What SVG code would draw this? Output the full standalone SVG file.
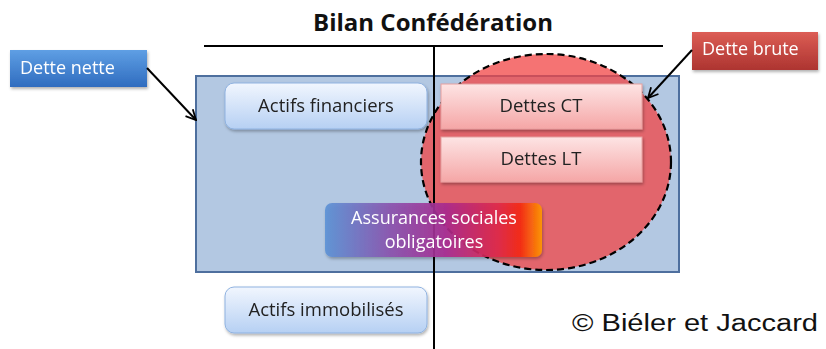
<svg xmlns="http://www.w3.org/2000/svg" width="826" height="349" viewBox="0 0 826 349">
  <defs>
    <linearGradient id="gAsset" x1="0" y1="0" x2="0" y2="1">
      <stop offset="0" stop-color="#f1f6fe"/>
      <stop offset="1" stop-color="#b6d0f3"/>
    </linearGradient>
    <linearGradient id="gDebt" x1="0" y1="0" x2="0" y2="1">
      <stop offset="0" stop-color="#fde4e4"/>
      <stop offset="1" stop-color="#f5a6a6"/>
    </linearGradient>
    <linearGradient id="gSocial" x1="0" y1="0" x2="1" y2="0">
      <stop offset="0" stop-color="#5b93d6"/>
      <stop offset="0.3" stop-color="#8a52ae"/>
      <stop offset="0.55" stop-color="#a82a90"/>
      <stop offset="0.8" stop-color="#e02848"/>
      <stop offset="0.9" stop-color="#f62a12"/>
      <stop offset="1" stop-color="#ff9a00"/>
    </linearGradient>
    <linearGradient id="gNet" x1="0" y1="0" x2="0" y2="1">
      <stop offset="0" stop-color="#5f9fe4"/>
      <stop offset="1" stop-color="#2f6cbf"/>
    </linearGradient>
    <linearGradient id="gGross" x1="0" y1="0" x2="0" y2="1">
      <stop offset="0" stop-color="#dc5d55"/>
      <stop offset="1" stop-color="#ad3430"/>
    </linearGradient>
    <filter id="shadow" x="-10%" y="-20%" width="120%" height="150%">
      <feDropShadow dx="1" dy="2" stdDeviation="1.5" flood-color="#000" flood-opacity="0.3"/>
    </filter>
    <marker id="arrow" viewBox="0 0 12 12" refX="11" refY="6" markerWidth="12" markerHeight="12" markerUnits="userSpaceOnUse" orient="auto">
      <path d="M1,1 L11,6 L1,11" fill="none" stroke="#000" stroke-width="1.8"/>
    </marker>
  </defs>
  <style>
    .lbl { font-family: "Open Sans", "Liberation Sans", sans-serif; font-size: 18.5px; fill: #222; text-anchor: middle; }
    .wlbl { font-family: "Open Sans", "Liberation Sans", sans-serif; font-size: 18px; fill: #fff; }
    .asset { fill: url(#gAsset); stroke: #8fb2e0; stroke-width: 1; }
    .debt { fill: url(#gDebt); stroke: #e6a0a0; stroke-width: 1; }
    .rule { stroke: #000; stroke-width: 2; fill: none; }
    .link { stroke: #000; stroke-width: 2; fill: none; marker-end: url(#arrow); }
  </style>

  <rect width="826" height="349" fill="#fff"/>

  <!-- Title -->
  <text x="433" y="31" font-family="'Open Sans', 'Liberation Sans', sans-serif" font-size="24" font-weight="bold" text-anchor="middle" fill="#111">Bilan Confédération</text>

  <!-- Balance area -->
  <g id="balance">
    <rect x="196" y="76" width="483" height="196" fill="#b3c8e2" stroke="#4e6f9e" stroke-width="2"/>
  </g>

  <!-- Gross debt circle -->
  <g id="gross-debt-area">
    <ellipse cx="546" cy="162" rx="125" ry="108" fill="#f24444" fill-opacity="0.75" stroke="#000" stroke-width="2.2" stroke-dasharray="7 4"/>
  </g>

  <!-- T-account rules -->
  <g id="rules">
    <line class="rule" x1="204" y1="46" x2="663" y2="46"/>
    <line class="rule" x1="434" y1="46" x2="434" y2="349"/>
  </g>

  <g id="actifs-financiers" filter="url(#shadow)">
    <rect class="asset" x="225" y="83" width="202" height="46" rx="9"/>
    <text class="lbl" x="326" y="112">Actifs financiers</text>
  </g>

  <g id="actifs-immobilises" filter="url(#shadow)">
    <rect class="asset" x="225" y="287" width="202" height="46" rx="9"/>
    <text class="lbl" x="326" y="316">Actifs immobilisés</text>
  </g>

  <g id="dettes-ct" filter="url(#shadow)">
    <rect class="debt" x="441" y="84" width="201" height="45"/>
    <text class="lbl" x="541" y="112">Dettes CT</text>
  </g>

  <g id="dettes-lt" filter="url(#shadow)">
    <rect class="debt" x="441" y="137" width="201" height="45"/>
    <text class="lbl" x="541" y="165">Dettes LT</text>
  </g>

  <g id="assurances-sociales" filter="url(#shadow)">
    <rect x="325" y="203" width="217" height="54" rx="7" fill="url(#gSocial)" fill-opacity="0.9"/>
    <text class="wlbl" x="434" y="224" text-anchor="middle">Assurances sociales</text>
    <text class="wlbl" x="434" y="248" text-anchor="middle">obligatoires</text>
  </g>

  <g id="dette-nette" filter="url(#shadow)">
    <rect x="10" y="50" width="137" height="37" fill="url(#gNet)"/>
    <text class="wlbl" x="20" y="74">Dette nette</text>
  </g>

  <g id="dette-brute" filter="url(#shadow)">
    <rect x="692" y="32" width="126" height="38" fill="url(#gGross)"/>
    <text class="wlbl" x="702" y="55">Dette brute</text>
  </g>

  <!-- Connectors -->
  <g id="connectors">
    <line class="link" x1="147" y1="68" x2="196" y2="120"/>
    <line class="link" x1="692" y1="50" x2="648" y2="98"/>
  </g>

  <text x="572" y="331" font-family="'Liberation Sans', sans-serif" font-size="23" fill="#111" textLength="246" lengthAdjust="spacingAndGlyphs">© Biéler et Jaccard</text>
</svg>
